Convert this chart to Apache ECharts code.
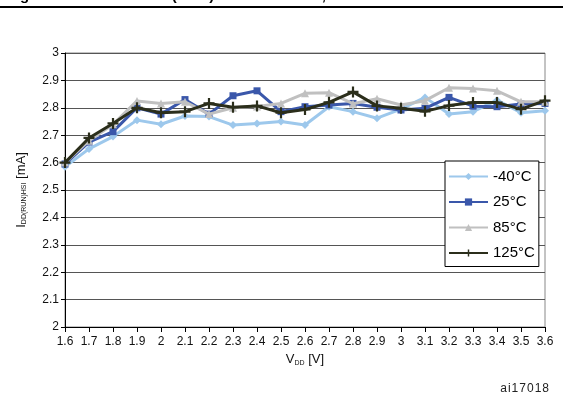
<!DOCTYPE html>
<html>
<head>
<meta charset="utf-8">
<script src="https://cdn.jsdelivr.net/npm/echarts@6/dist/echarts.min.js"></script>
<style>html,body{margin:0;padding:0;background:#fff}#c{width:563px;height:402px}</style>
</head>
<body>
<div id="c"></div>
<script>
var categories = ['1.6','1.7','1.8','1.9','2','2.1','2.2','2.3','2.4','2.5','2.6','2.7','2.8','2.9','3','3.1','3.2','3.3','3.4','3.5','3.6'];
var seriesNames = ['-40°C','25°C','85°C','125°C'];
var tMinus40 = [2.585,2.65,2.695,2.755,2.74,2.77,2.768,2.737,2.743,2.75,2.737,2.804,2.786,2.762,2.795,2.838,2.777,2.786,2.828,2.782,2.789];
var t25 = [2.595,2.675,2.713,2.80,2.777,2.83,2.777,2.844,2.862,2.786,2.804,2.81,2.816,2.802,2.792,2.798,2.838,2.806,2.804,2.814,2.816];
var t85 = [2.60,2.68,2.74,2.825,2.816,2.822,2.777,2.80,2.805,2.816,2.853,2.855,2.815,2.833,2.81,2.826,2.873,2.87,2.862,2.822,2.822];
var t125 = [2.60,2.69,2.743,2.80,2.782,2.786,2.816,2.802,2.807,2.782,2.794,2.82,2.858,2.807,2.798,2.787,2.808,2.819,2.819,2.795,2.826];
var yTicks = {min: 2, max: 3, step: 0.1};

var FONT = '"Liberation Sans", Arial, sans-serif';
var colors = ['#9DC8EC', '#3A57AA', '#C0C0C0', '#2B2E1B'];
var plusPath = 'path://M4,0 L6,0 L6,4 L10,4 L10,6 L6,6 L6,10 L4,10 L4,6 L0,6 L0,4 L4,4 Z';
var symbols = ['diamond', 'rect', 'triangle', plusPath];
var sizes = [8, 7, 8, 11];
var dataSets = [tMinus40, t25, t85, t125];

var chart = echarts.init(document.getElementById('c'), null, {renderer: 'canvas'});
chart.setOption({
  animation: false,
  backgroundColor: '#fff',
  textStyle: {fontFamily: FONT},
  grid: {left: 65, right: 18, top: 53, bottom: 75, show: true, borderColor: '#888', borderWidth: 1, containLabel: false},
  legend: {
    data: seriesNames,
    orient: 'vertical',
    left: 445, top: 161,
    backgroundColor: '#fff',
    borderColor: '#000', borderWidth: 1, borderRadius: 0,
    padding: [8, 4, 6, 3],
    itemWidth: 39, itemHeight: 9, itemGap: 10.5, itemTextGap: 1,
    textStyle: {fontSize: 15, color: '#000', fontFamily: FONT}
  },
  xAxis: {
    type: 'category',
    data: categories,
    boundaryGap: false,
    axisLine: {lineStyle: {color: '#000', width: 1}},
    axisTick: {show: true, inside: false, length: 5, alignWithLabel: true, interval: 0, lineStyle: {color: '#000'}},
    axisLabel: {interval: 0, fontSize: 12, color: '#111', margin: 9, fontFamily: FONT},
    splitLine: {show: false},
    name: 'V{s|DD} [V]',
    nameLocation: 'middle',
    nameGap: 25,
    nameTextStyle: {fontSize: 13, color: '#111', fontFamily: FONT, rich: {s: {fontSize: 7, verticalAlign: 'bottom', padding: [7, 0, 0, 0], color: '#111'}}}
  },
  yAxis: {
    type: 'value',
    min: yTicks.min, max: yTicks.max, interval: yTicks.step,
    axisLine: {show: true, lineStyle: {color: '#000', width: 1}},
    axisTick: {show: true, inside: false, length: 4, lineStyle: {color: '#000'}},
    axisLabel: {fontSize: 12, color: '#111', margin: 6, fontFamily: FONT, formatter: function (v) { return String(+v.toFixed(1)); }},
    splitLine: {show: true, lineStyle: {color: '#555', width: 1}},
    name: 'I{s|DD(RUN)HSI} [mA]',
    nameLocation: 'middle',
    nameRotate: 90,
    nameGap: 37,
    nameTextStyle: {fontSize: 13, color: '#111', fontFamily: FONT, rich: {s: {fontSize: 7, verticalAlign: 'bottom', padding: [7, 0, 0, 0], color: '#111'}}}
  },
  series: seriesNames.map(function (n, i) {
    return {
      name: n,
      type: 'line',
      data: dataSets[i],
      color: colors[i],
      symbol: symbols[i],
      symbolSize: sizes[i],
      showAllSymbol: true,
      lineStyle: {width: 3, color: colors[i]},
      itemStyle: {color: colors[i]},
      z: 2 + i
    };
  }),
  graphic: [
    {type: 'rect', left: 0, top: 6, shape: {width: 563, height: 2}, style: {fill: '#000'}},
    {type: 'text', left: 150, top: -12, style: {text: 'DD(RUN)', font: 'bold 15px ' + FONT, fill: '#000'}},
    {type: 'text', left: 300, top: -12, style: {text: 'DD, 3 V', font: 'bold 15px ' + FONT, fill: '#000'}},
    {type: 'text', left: 20, top: -12, style: {text: 'g', font: 'bold 15px ' + FONT, fill: '#000'}},
    {type: 'text', right: 14, top: 383, style: {text: 'a\u200Ai\u200A1\u200A7\u200A0\u200A1\u200A8', font: '12px ' + FONT, fill: '#222'}}
  ]
});
</script>
</body>
</html>
